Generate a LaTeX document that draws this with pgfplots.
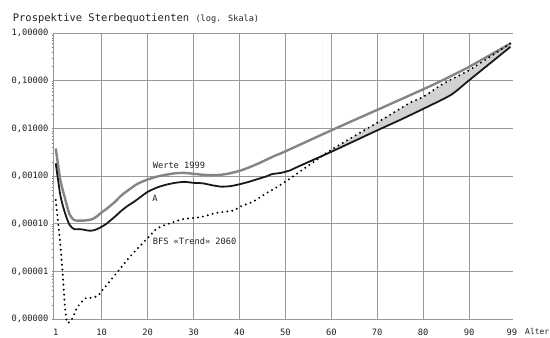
\documentclass[border=0pt]{standalone}
\usepackage{fontspec}
\setmainfont{DejaVu Sans Mono}
\usepackage{pgfplots}
\pgfplotsset{compat=1.18}

\definecolor{gridgray}{HTML}{999999}
\definecolor{linegray}{HTML}{858585}
\definecolor{fillgray}{HTML}{D2D2D2}
\definecolor{txt}{HTML}{222222}

% Prospective death rates by age (log scale)
\pgfplotstableread{
age  q
0    3.80e-3
1    8.32e-4
2    3.47e-4
3    1.58e-4
4    1.20e-4
5    1.17e-4
6    1.17e-4
7    1.20e-4
8    1.26e-4
9    1.45e-4
10   1.74e-4
11   2.04e-4
12   2.45e-4
13   2.95e-4
14   3.72e-4
15   4.47e-4
16   5.25e-4
17   6.17e-4
18   7.08e-4
20   8.51e-4
22   9.77e-4
24   1.07e-3
26   1.15e-3
28   1.17e-3
30   1.12e-3
32   1.07e-3
34   1.05e-3
36   1.07e-3
38   1.15e-3
40   1.29e-3
42   1.51e-3
44   1.82e-3
46   2.24e-3
48   2.75e-3
50   3.31e-3
60   9.12e-3
70   2.45e-2
80   6.61e-2
84   1.00e-1
90   1.95e-1
99   6.03e-1
}\werte

\pgfplotstableread{
age  q
0    1.86e-3
1    3.98e-4
2    1.70e-4
3    9.55e-5
4    7.76e-5
5    7.76e-5
6    7.59e-5
7    7.24e-5
8    7.24e-5
9    7.76e-5
10   8.71e-5
11   1.00e-4
12   1.20e-4
13   1.45e-4
14   1.78e-4
15   2.14e-4
16   2.51e-4
17   2.88e-4
18   3.39e-4
20   4.68e-4
22   5.75e-4
24   6.61e-4
26   7.24e-4
28   7.59e-4
30   7.24e-4
32   7.08e-4
34   6.46e-4
36   6.03e-4
38   6.17e-4
40   6.76e-4
42   7.59e-4
44   8.71e-4
46   1.00e-3
47   1.10e-3
49   1.17e-3
51   1.32e-3
53   1.62e-3
60   3.24e-3
70   9.12e-3
75   1.51e-2
80   2.57e-2
86   5.01e-2
90   1.02e-1
99   5.13e-1
}\tafelA

\pgfplotstableread{
age   q
0     3.16e-4
0.9   4.57e-5
1.5   9.33e-6
2     1.82e-6
2.5   8.51e-7
3.5   1.00e-6
4.7   1.78e-6
6.4   2.75e-6
7.8   2.82e-6
9.1   3.09e-6
10    3.89e-6
12.9  8.51e-6
16.5  2.24e-5
20.2  5.25e-5
22    7.94e-5
24.2  9.77e-5
27.8  1.26e-4
31.4  1.38e-4
35    1.70e-4
38.7  1.91e-4
40.1  2.29e-4
43    2.95e-4
46    4.47e-4
48    5.75e-4
51    8.91e-4
60    3.55e-3
70    1.32e-2
77    3.39e-2
80    4.57e-2
84.4  8.71e-2
90    1.66e-1
99    6.03e-1
}\bfs

% band between the BFS projection (upper edge) and table A (lower edge)
\pgfplotstableread{
age   q
58    2.65e-3
60    3.55e-3
70    1.32e-2
77    3.39e-2
80    4.57e-2
84.4  8.71e-2
90    1.66e-1
99    6.03e-1
99    5.13e-1
90    1.02e-1
86    5.01e-2
80    2.57e-2
75    1.51e-2
70    9.12e-3
60    3.24e-3
58    2.65e-3
}\band

\begin{document}
\begin{tikzpicture}
\begin{axis}[
  name=ax,
  scale only axis,
  width=459.7bp, height=286.3bp,
  ymode=log,
  xmin=-0.6, xmax=99.5,
  ymin=1e-6, ymax=1,
  clip=false,
  axis x line=bottom, axis y line=left,
  axis line style={gridgray, line width=0.8bp, -},
  major tick length=0pt,
  xtick={10,20,...,90},
  extra x ticks={0,99.3},
  extra x tick labels={1,99},
  extra x tick style={grid=none},
  ytick={1e-6,1e-5,1e-4,1e-3,1e-2,1e-1,1},
  yticklabels={{0,00000},{0,00001},{0,00010},{0,00100},{0,01000},{0,10000},{1,00000}},
  xmajorgrids, ymajorgrids,
  grid style={gridgray, line width=0.8bp},
  tick label style={font=\fontsize{8.8}{10}\selectfont, text=txt},
  xticklabel style={yshift=-6.5bp},
  yticklabel style={xshift=-1bp},
  /pgf/number format/assume math mode=true,
]
\addplot[fill=fillgray, draw=none] table[x=age,y=q] {\band} \closedcycle;

\addplot[linegray, line width=2.4bp, smooth, tension=0.4] table[x=age,y=q] {\werte};
\addplot[black!90, line width=1.8bp, smooth, tension=0.4] table[x=age,y=q] {\tafelA};
\addplot[black, line width=2.2bp, line cap=round, dash pattern=on 0bp off 5bp, smooth, tension=0.4] table[x=age,y=q] {\bfs};

\node[anchor=west, inner sep=0, text=txt, font=\fontsize{8.7}{10}\selectfont] at (axis cs:21.1,1.70e-3) {Werte 1999};
\node[anchor=center, inner sep=0, text=txt, font=\fontsize{8.7}{10}\selectfont] at (axis cs:21.6,3.42e-4) {A};
\node[anchor=west, inner sep=0, text=txt, font=\fontsize{8.7}{10}\selectfont] at (axis cs:21.1,4.42e-5) {BFS «Trend» 2060};
\end{axis}
\coordinate (O) at ([xshift=-53bp,yshift=33bp]ax.north west);
\node[anchor=base west, inner sep=0, text=txt] at ([xshift=12.7bp,yshift=-22bp]O)
  {\fontsize{10.5}{12}\selectfont Prospektive Sterbequotienten \fontsize{8.6}{10}\selectfont(log. Skala)};
\node[anchor=base west, inner sep=0, text=txt, font=\fontsize{8}{10}\selectfont] at ([xshift=525bp,yshift=-334bp]O) {Alter};
\pgfresetboundingbox
\path[use as bounding box] (O) rectangle ++(550bp,-338bp);
\end{tikzpicture}
\end{document}
